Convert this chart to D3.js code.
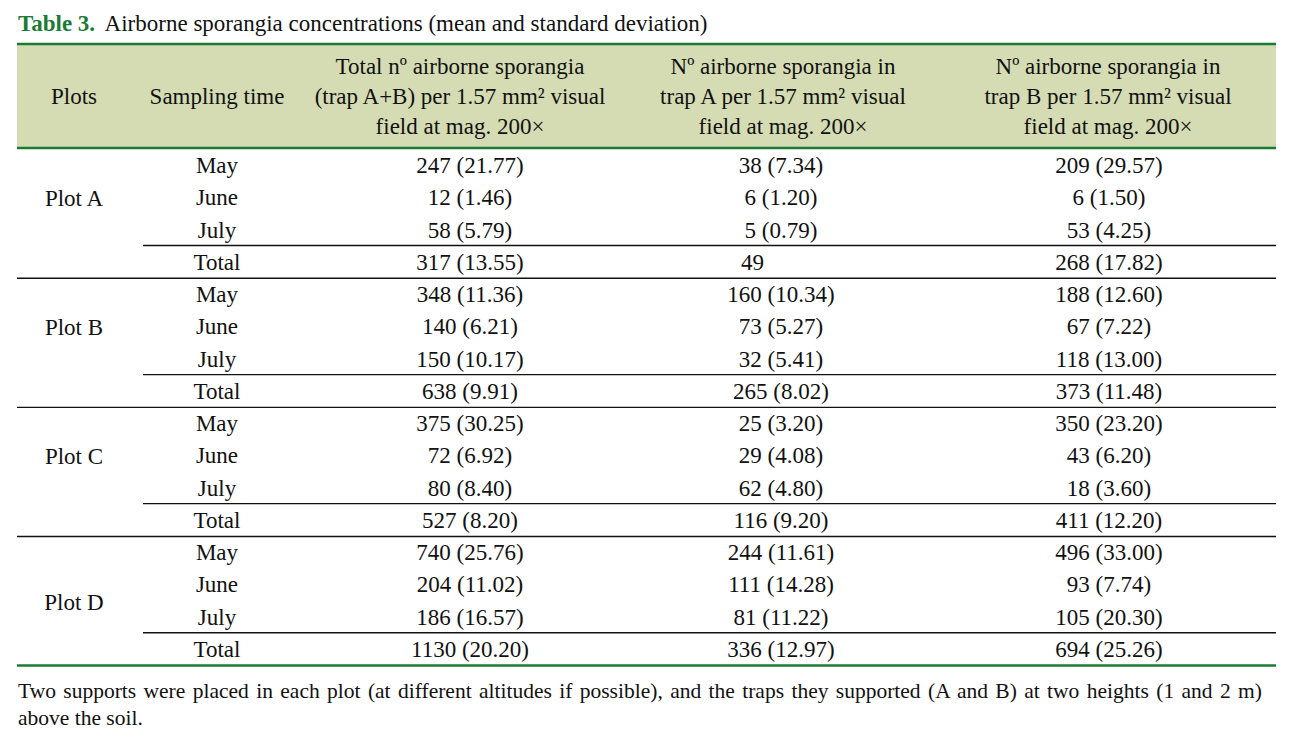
<!DOCTYPE html>
<html>
<head>
<meta charset="utf-8">
<script src="https://cdn.jsdelivr.net/npm/d3@7"></script>
<style>
  body { margin: 0; background: #fff; }
  text { font-family: "Liberation Serif", "Times New Roman", serif; fill: #111; }
</style>
</head>
<body>
<div id="app"></div>
<script>
const plots = ["Plot A", "Plot B", "Plot C", "Plot D"];
const times = ["May", "June", "July", "Total"];

// mean and standard deviation per row (4 plots x May/June/July/Total)
const meanAB = [247, 12, 58, 317, 348, 140, 150, 638, 375, 72, 80, 527, 740, 204, 186, 1130];
const sdAB = [21.77, 1.46, 5.79, 13.55, 11.36, 6.21, 10.17, 9.91, 30.25, 6.92, 8.40, 8.20, 25.76, 11.02, 16.57, 20.20];
const meanA = [38, 6, 5, 49, 160, 73, 32, 265, 25, 29, 62, 116, 244, 111, 81, 336];
const sdA = [7.34, 1.20, 0.79, null, 10.34, 5.27, 5.41, 8.02, 3.20, 4.08, 4.80, 9.20, 11.61, 14.28, 11.22, 12.97];
const meanB = [209, 6, 53, 268, 188, 67, 118, 373, 350, 43, 18, 411, 496, 93, 105, 694];
const sdB = [29.57, 1.50, 4.25, 17.82, 12.60, 7.22, 13.00, 11.48, 23.20, 6.20, 3.60, 12.20, 33.00, 7.74, 20.30, 25.26];

const headers = [
  ["Plots"],
  ["Sampling time"],
  ["Total n\u00ba airborne sporangia", "(trap A+B) per 1.57 mm\u00b2 visual", "field at mag. 200\u00d7"],
  ["N\u00ba airborne sporangia in", "trap A per 1.57 mm\u00b2 visual", "field at mag. 200\u00d7"],
  ["N\u00ba airborne sporangia in", "trap B per 1.57 mm\u00b2 visual", "field at mag. 200\u00d7"]
];

const footnote = [
  "Two supports were placed in each plot (at different altitudes if possible), and the traps they supported (A and B) at two heights (1 and 2 m)",
  "above the soil."
];

const width = 1289, height = 745;
const left = 17, right = 1276;
const green = "#1b7b34";
const fontSize = 23;

const svg = d3.select("#app").append("svg")
  .attr("width", width)
  .attr("height", height);

// title
const title = svg.append("text")
  .attr("x", 18)
  .attr("y", 31)
  .style("font-size", "23px");
title.append("tspan")
  .style("font-weight", "bold")
  .style("fill", green)
  .text("Table 3.");
title.append("tspan")
  .attr("dx", 5)
  .text(" Airborne sporangia concentrations (mean and standard deviation)");

// header band
svg.append("rect")
  .attr("x", left)
  .attr("y", 44)
  .attr("width", right - left)
  .attr("height", 104)
  .style("fill", "#d5dcb4");

[44, 148].forEach(y => {
  svg.append("line")
    .attr("x1", left).attr("x2", right)
    .attr("y1", y).attr("y2", y)
    .style("stroke", green)
    .style("stroke-width", 2.6);
});

const headX = [74, 217, 460, 783, 1108];
const dataX = [74, 217, 470, 781, 1109];

headers.forEach((lines, i) => {
  const t = svg.append("text")
    .attr("text-anchor", "middle")
    .style("font-size", fontSize + "px");
  const y0 = lines.length === 1 ? 104 : 74;
  lines.forEach((l, j) => {
    t.append("tspan")
      .attr("x", headX[i])
      .attr("y", y0 + j * 30)
      .text(l);
  });
});

// rows
const rowY = d3.scaleLinear().domain([0, 15]).range([173, 657]);
const fmt = (m, s) => s == null ? String(m) : `${m} (${d3.format(".2f")(s)})`;

const rows = d3.range(16).map(i => ({
  i,
  time: times[i % 4],
  cells: [
    { txt: fmt(meanAB[i], sdAB[i]), bare: sdAB[i] == null },
    { txt: fmt(meanA[i], sdA[i]), bare: sdA[i] == null },
    { txt: fmt(meanB[i], sdB[i]), bare: sdB[i] == null }
  ]
}));

const rowG = svg.append("g")
  .selectAll("g")
  .data(rows)
  .join("g")
  .attr("transform", d => `translate(0,${rowY(d.i)})`);

rowG.append("text")
  .attr("x", dataX[1])
  .attr("text-anchor", "middle")
  .style("font-size", fontSize + "px")
  .text(d => d.time);

rowG.each(function (d) {
  d3.select(this).selectAll("text.val")
    .data(d.cells)
    .join("text")
    .attr("class", "val")
    // a mean without sd sits where the cell text starts, like the source
    .attr("x", (c, k) => c.bare ? dataX[k + 2] - 40 : dataX[k + 2])
    .attr("text-anchor", c => c.bare ? "start" : "middle")
    .style("font-size", fontSize + "px")
    .text(c => c.txt);
});

// plot labels
plots.forEach((p, k) => {
  const y = k === 3
    ? (rowY(k * 4) + rowY(k * 4 + 3)) / 2 + 1
    : rowY(k * 4 + 1) + 1;
  svg.append("text")
    .attr("x", dataX[0])
    .attr("y", y)
    .attr("text-anchor", "middle")
    .style("font-size", fontSize + "px")
    .text(p);
});

// rule lines
plots.forEach((p, k) => {
  svg.append("line")
    .attr("x1", 143).attr("x2", right)
    .attr("y1", rowY(k * 4 + 2) + 8).attr("y2", rowY(k * 4 + 2) + 8)
    .style("stroke", "#111")
    .style("stroke-width", 1.4);
  const yEnd = rowY(k * 4 + 3) + 8.5;
  svg.append("line")
    .attr("x1", left).attr("x2", right)
    .attr("y1", yEnd).attr("y2", yEnd)
    .style("stroke", k === 3 ? green : "#111")
    .style("stroke-width", k === 3 ? 2.6 : 1.4);
});

// footnote, first line justified by word spacing
const fn1 = svg.append("text")
  .attr("x", 18)
  .attr("y", 698)
  .style("font-size", "21.5px")
  .text(footnote[0]);
const natural = fn1.node().getComputedTextLength();
const gaps = footnote[0].split(" ").length - 1;
fn1.style("word-spacing", ((1262 - 18 - natural) / gaps) + "px");

svg.append("text")
  .attr("x", 18)
  .attr("y", 725)
  .style("font-size", "21.5px")
  .text(footnote[1]);
</script>
</body>
</html>
